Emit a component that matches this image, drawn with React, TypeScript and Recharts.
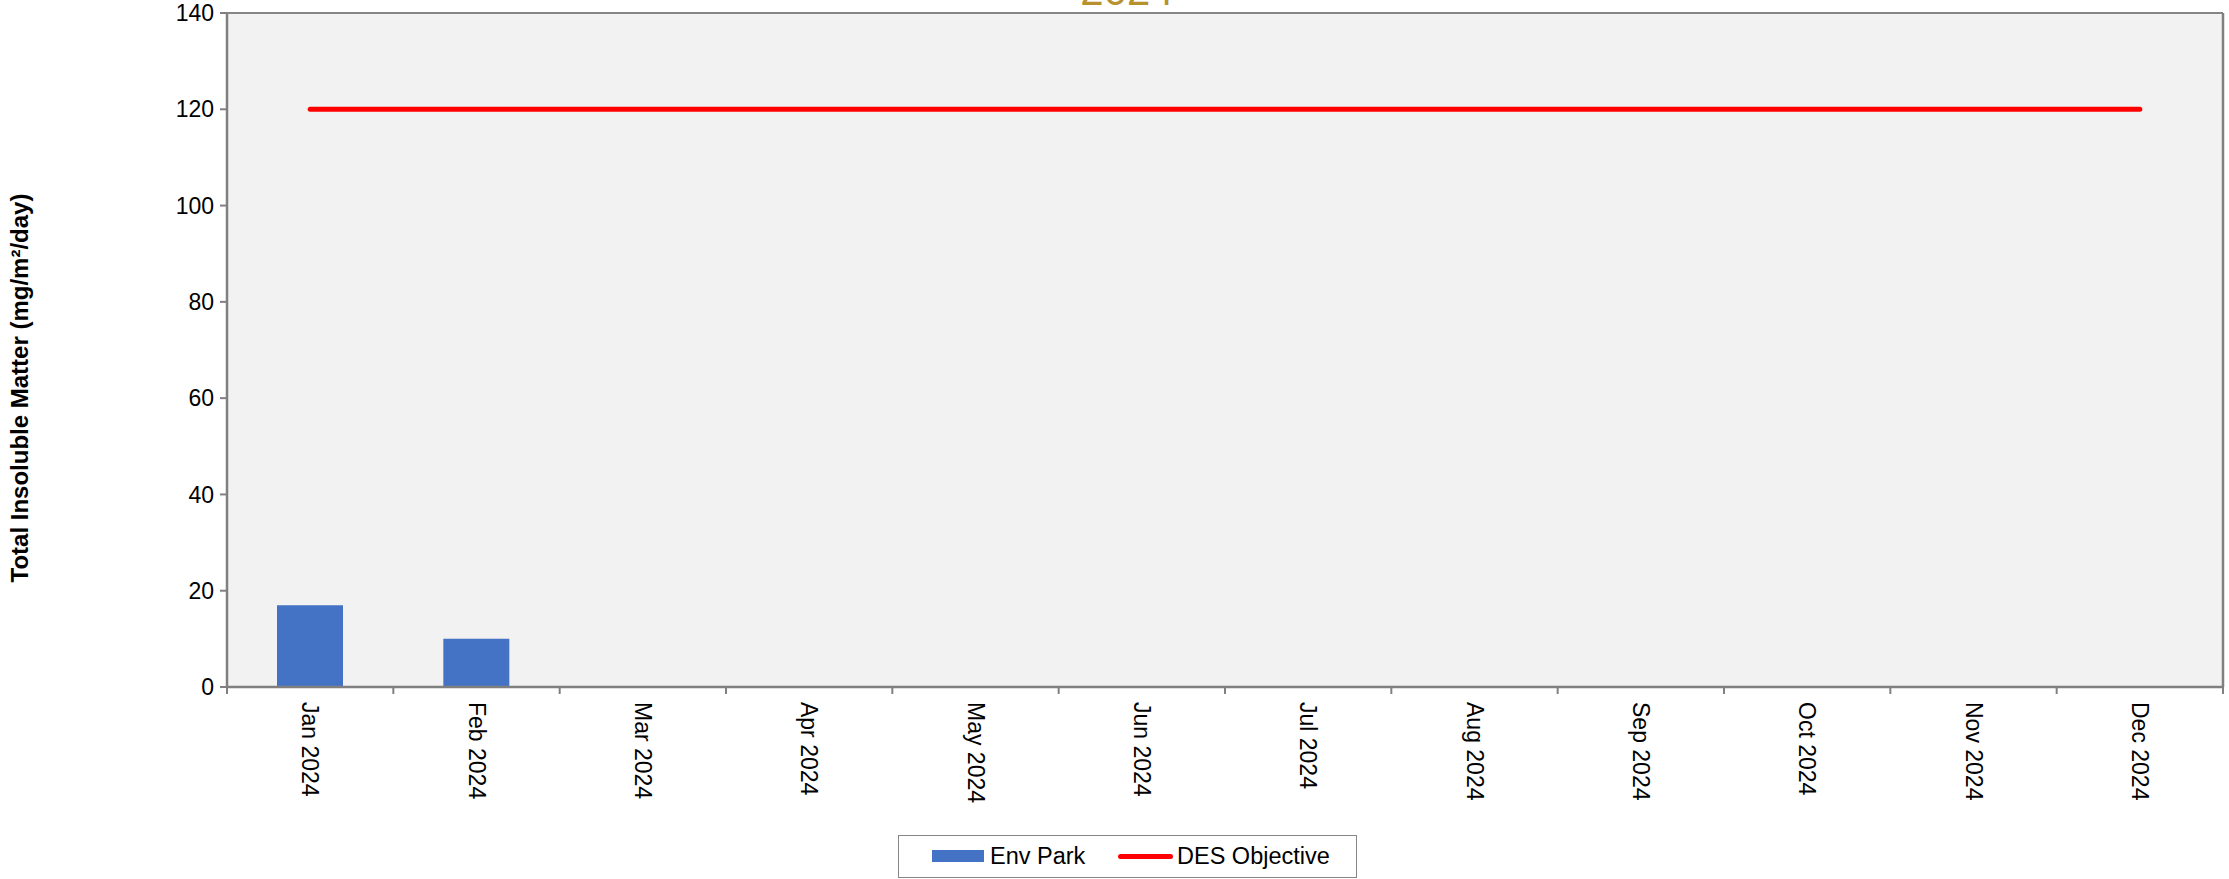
import { Bar, CartesianGrid, ComposedChart, Legend, Line, XAxis, YAxis } from "recharts"

const months = [
  "Jan 2024", "Feb 2024", "Mar 2024", "Apr 2024", "May 2024", "Jun 2024",
  "Jul 2024", "Aug 2024", "Sep 2024", "Oct 2024", "Nov 2024", "Dec 2024",
]
const envPark = [17, 10, null, null, null, null, null, null, null, null, null, null]
const desObjective = [120, 120, 120, 120, 120, 120, 120, 120, 120, 120, 120, 120]
const yTicks = [0, 20, 40, 60, 80, 100, 120, 140]

const data = months.map((m, i) => ({ month: m, envPark: envPark[i], objective: desObjective[i] }))

const W = 2229
const H = 879
const PLOT_LEFT = 227
const PLOT_RIGHT = 2223
const PLOT_BOTTOM = 687
const BAND = (PLOT_RIGHT - PLOT_LEFT) / months.length
const FONT = "'Liberation Sans', Arial, sans-serif"
const GRID = "#868686"
const AXIS = "#808080"

function MonthTick(props: any) {
  const { x, index, payload } = props
  const last = index === months.length - 1
  return (
    <g>
      <line x1={x - BAND / 2} y1={PLOT_BOTTOM} x2={x - BAND / 2} y2={PLOT_BOTTOM + 7} stroke={AXIS} strokeWidth={2} />
      {last && (
        <line x1={x + BAND / 2} y1={PLOT_BOTTOM} x2={x + BAND / 2} y2={PLOT_BOTTOM + 7} stroke={AXIS} strokeWidth={2} />
      )}
      <text
        x={x}
        y={PLOT_BOTTOM + 15}
        transform={`rotate(90, ${x}, ${PLOT_BOTTOM + 15})`}
        textAnchor="start"
        dominantBaseline="central"
        fontSize={23}
        fontFamily={FONT}
        fill="#000"
      >
        {payload.value}
      </text>
    </g>
  )
}

function AxisTitle(props: any) {
  const { viewBox } = props
  const cy = viewBox.y + viewBox.height / 2 + 38
  return (
    <text
      x={19}
      y={cy}
      transform={`rotate(-90, 19, ${cy})`}
      textAnchor="middle"
      dominantBaseline="central"
      fontSize={24}
      fontWeight="bold"
      fontFamily={FONT}
      fill="#000"
    >
      Total Insoluble Matter (mg/m²/day)
    </text>
  )
}

function LegendBox() {
  const item = { position: "absolute" as const, top: 0, height: 40, display: "flex", alignItems: "center" }
  return (
    <div style={{ height: 44 }}>
      <div
        style={{
          position: "relative",
          width: 459,
          height: 43,
          boxSizing: "border-box",
          border: `1.5px solid ${GRID}`,
          background: "#fff",
          fontFamily: FONT,
          fontSize: 23.5,
          color: "#000",
        }}
      >
        <div style={{ ...item, left: 33 }}>
          <div style={{ width: 52, height: 12, background: "#4472C4" }} />
        </div>
        <div style={{ ...item, left: 91 }}>Env Park</div>
        <div style={{ ...item, left: 219 }}>
          <div style={{ width: 55, height: 5, borderRadius: 3, background: "#FF0000" }} />
        </div>
        <div style={{ ...item, left: 278 }}>DES Objective</div>
      </div>
    </div>
  )
}

export default function App() {
  return (
    <div style={{ position: "absolute", left: 0, top: 0, width: W, height: H, background: "#fff" }}>
      <svg width={W} height={20} style={{ position: "absolute", left: 0, top: 0, zIndex: 2 }}>
        <text x={1127} y={5} textAnchor="middle" fontSize={42} fontFamily={FONT} fill="#B8912F">
          2024
        </text>
      </svg>
      <ComposedChart width={W} height={H} data={data} margin={{ top: 13, right: 0, bottom: 0, left: 0 }}>
        <CartesianGrid vertical={false} stroke={GRID} strokeWidth={2} fill="#F2F2F2" />
        <XAxis
          dataKey="month"
          height={148}
          interval={0}
          tickLine={false}
          axisLine={{ stroke: AXIS, strokeWidth: 2.5 }}
          tick={<MonthTick />}
        />
        <YAxis
          yAxisId="left"
          width={PLOT_LEFT}
          domain={[0, 140]}
          ticks={yTicks}
          interval={0}
          tickSize={7}
          tickMargin={6}
          tickLine={{ stroke: AXIS, strokeWidth: 2 }}
          axisLine={{ stroke: AXIS, strokeWidth: 2.5 }}
          tick={{ fill: "#000", fontSize: 23, fontFamily: FONT }}
          label={<AxisTitle />}
        />
        <YAxis
          yAxisId="right"
          orientation="right"
          width={W - PLOT_RIGHT}
          domain={[0, 140]}
          tick={false}
          tickLine={false}
          axisLine={{ stroke: AXIS, strokeWidth: 2.5 }}
        />
        <Legend verticalAlign="bottom" content={<LegendBox />} wrapperStyle={{ left: 898, width: 459, bottom: 0 }} />
        <Bar yAxisId="left" dataKey="envPark" name="Env Park" fill="#4472C4" barSize={66} isAnimationActive={false} />
        <Line
          yAxisId="left"
          dataKey="objective"
          name="DES Objective"
          stroke="#FF0000"
          strokeWidth={5}
          strokeLinecap="round"
          dot={false}
          activeDot={false}
          isAnimationActive={false}
        />
      </ComposedChart>
    </div>
  )
}
